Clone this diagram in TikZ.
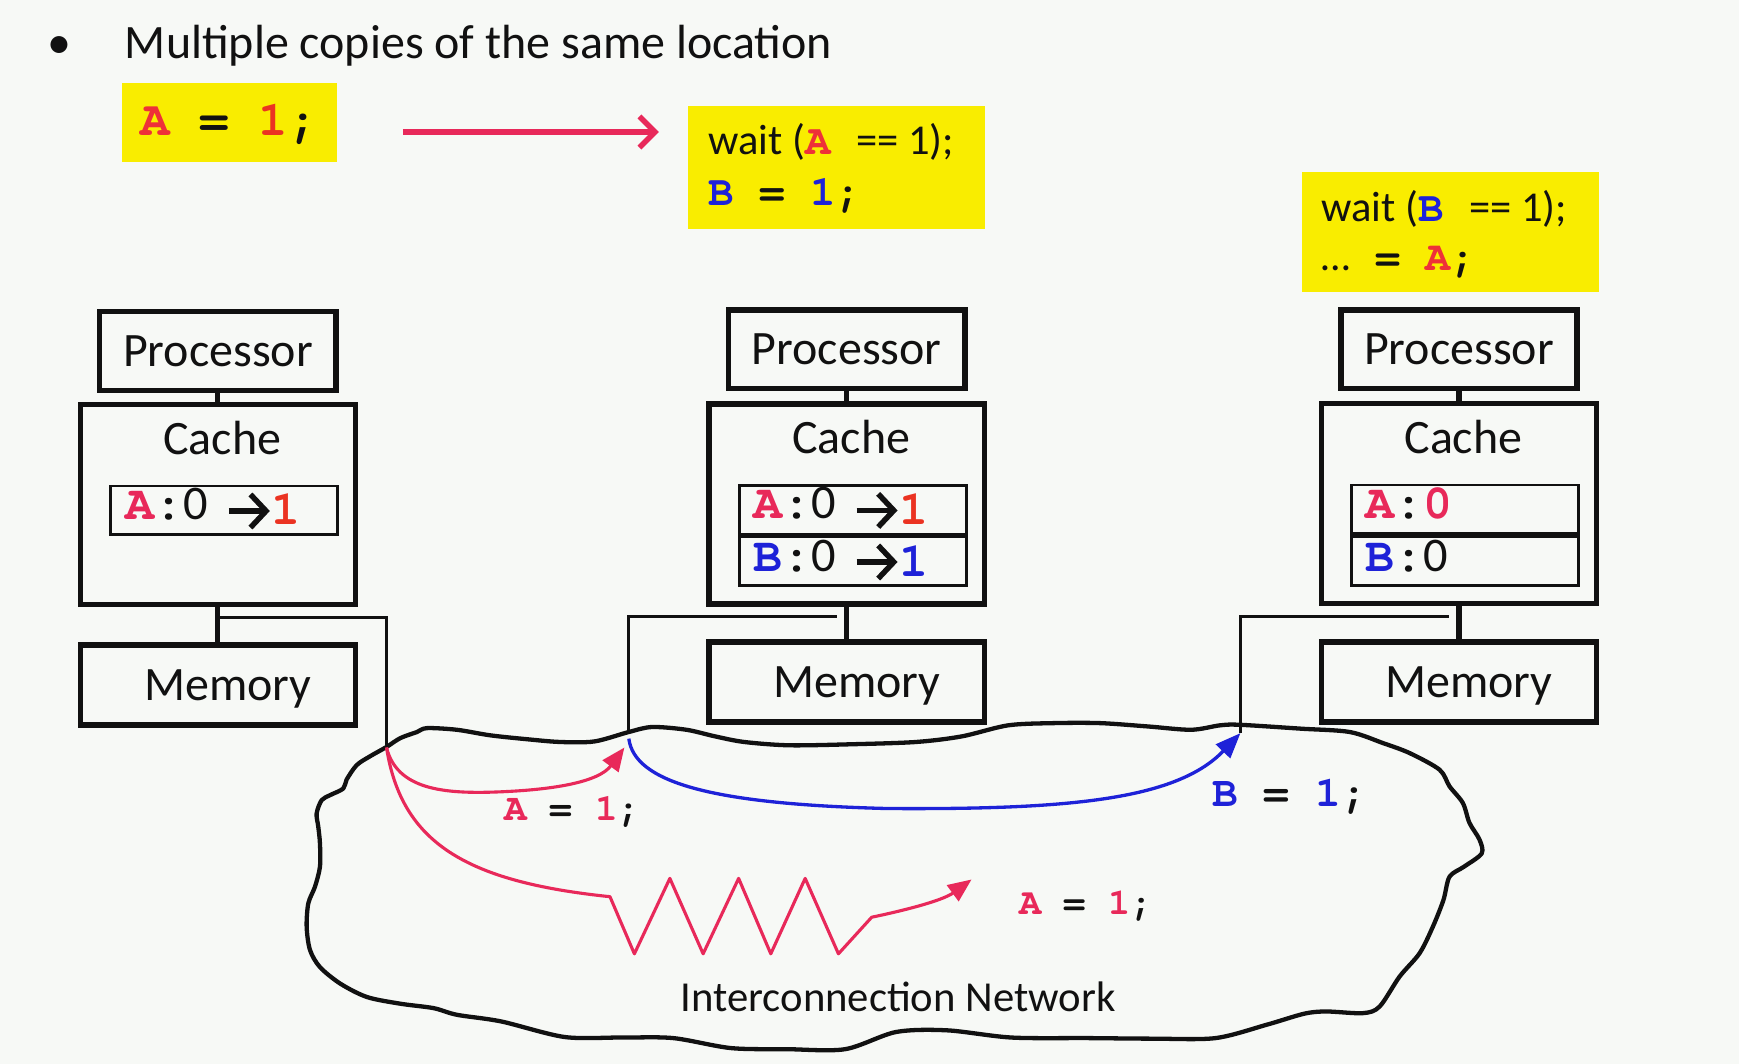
\documentclass[tikz,border=0pt]{standalone}
\usepackage{fontspec}
\setmainfont{Carlito}
\setmonofont{TeX Gyre Cursor}
\usetikzlibrary{arrows.meta,calc}

\definecolor{paper}{HTML}{F7F9F6}
\definecolor{ink}{HTML}{111111}
\definecolor{hilite}{HTML}{F9ED00}
\definecolor{apink}{HTML}{E8295A}
\definecolor{ored}{HTML}{EB3322}
\definecolor{codered}{HTML}{EE3138}
\definecolor{bblue}{HTML}{1E22D8}

% bold typewriter code
\newcommand{\cd}[1]{{\ttfamily\bfseries #1}}
\newcommand{\fsz}[1]{\fontsize{#1pt}{#1pt}\selectfont}

\begin{document}
\begin{tikzpicture}[x=0.01cm, y=-0.01cm,
  unit/.style={draw=ink, line width=1.4pt, inner sep=0pt, text=ink, font=\fsz{12.3}},
  procbox/.style={unit, minimum width=2.13cm, minimum height=0.71cm},
  cachebox/.style={unit, minimum width=2.48cm, minimum height=1.80cm},
  membox/.style={unit, minimum width=2.48cm, minimum height=0.72cm, text depth=0pt},
  cachelabel/.style={inner sep=0pt, anchor=base, text=ink, font=\fsz{12.3}},
  entrybox/.style={draw=ink, line width=0.7pt, inner sep=0pt, minimum width=2.045cm, minimum height=0.44cm, anchor=north west},
  etext/.style={inner sep=0pt, anchor=base west, text=ink, font=\fsz{12.4}},
  earrow/.style={draw=ink, line width=1.4pt, -{Straight Barb[length=4pt,width=8.5pt]}},
  link/.style={draw=ink, line width=1.3pt},
  net/.style={draw=ink, line width=0.75pt},
  codebox/.style={fill=hilite, inner sep=0pt},
  codeline/.style={inner sep=0pt, anchor=base west, text=ink},
  cloudline/.style={draw=ink, line width=1.1pt, line join=round},
  msgred/.style={draw=apink, line width=0.8pt, line join=round, -{Triangle[length=6pt,width=5pt]}},
  msgblue/.style={draw=bblue, line width=0.85pt, -{Triangle[length=6.5pt,width=5pt]}},
  msglabel/.style={inner sep=0pt, anchor=base west, text=ink},
]

% page
\fill[paper] (0,0) rectangle (1568,959);
\useasboundingbox (0,0) rectangle (1568,959);

% heading
\node[inner sep=0pt, anchor=base, font=\fsz{12.3}, text=ink] (dot) at (53.5,52.6) {•};
\node[inner sep=0pt, anchor=base west, font=\fsz{12.3}, text=ink] (head) at (112,52.6) {Multiple copies of the same location};

% program fragments
\node[codebox, minimum width=1.93cm, minimum height=0.707cm] (code1) at (206.9,110.5) {};
\node[codeline, font=\fsz{12.6}] (code1a) at ($(code1.west)+(16.5,12)$) {\cd{\textcolor{codered}{A} = \textcolor{ored}{1};}};

\node[codebox, minimum width=2.673cm, minimum height=1.112cm] (code2) at (754.4,151.2) {};
\node[codeline, font=\fsz{10.9}] (code2a) at ($(code2.north west)+(18,44)$) {wait (\cd{\textcolor{codered}{A}\ }== 1);};
\node[codeline, font=\fsz{10.9}] (code2b) at ($(code2.north west)+(18,90)$) {\cd{\textcolor{bblue}{B} = \textcolor{bblue}{1};}};

\node[codebox, minimum width=2.675cm, minimum height=1.082cm] (code3) at (1307.5,208.9) {};
\node[codeline, font=\fsz{10.9}] (code3a) at ($(code3.north west)+(18,45.5)$) {wait (\cd{\textcolor{bblue}{B}\ }== 1);};
\node[codeline, font=\fsz{10.7}] (code3b) at ($(code3.north west)+(18,89.5)$) {…\cd{\ = \textcolor{codered}{A};}};

\draw[draw=apink, line width=1.4pt, -{Straight Barb[length=4pt,width=8pt]}] ($(code1.east)+(59,8.5)$) -- ($(code1.east)+(290,8.5)$);

% node 1
\node[procbox] (p1) at (196.5,316.5) {Processor};
\node[cachebox] (c1) at (196.5,455) {};
\node[membox] (m1) at (196.5,617.5) {\hspace*{0.18cm}Memory};
\node[cachelabel] (cl1) at ($(c1.north)+(4,47)$) {Cache};
\draw[link] (p1) -- (c1);
\draw[link] (c1) -- (m1);
\node[entrybox] (e1a) at ($(c1.north west)+(28.5,74.5)$) {};
\node[etext] (t1a) at ($(e1a.west)+(14,8)$) {\cd{\textcolor{apink}{A}:}0};
\draw[earrow] ($(t1a.base east)+(18,-7.5)$) -- ++(37,0);
\node[etext] (v1a) at ($(t1a.base east)+(56,5)$) {\cd{\textcolor{ored}{1}}};

% node 2
\node[procbox] (p2) at (763.5,315) {Processor};
\node[cachebox] (c2) at (763.5,454.5) {};
\node[membox] (m2) at (763.5,615) {\hspace*{0.18cm}Memory};
\node[cachelabel] (cl2) at ($(c2.north)+(4,47)$) {Cache};
\draw[link] (p2) -- (c2);
\draw[link] (c2) -- (m2);
\node[entrybox] (e2a) at ($(c2.north west)+(28.5,74.5)$) {};
\node[entrybox] (e2b) at (e2a.south west) {};
\node[etext] (t2a) at ($(e2a.west)+(13,8)$) {\cd{\textcolor{apink}{A}:}0};
\draw[earrow] ($(t2a.base east)+(18,-7.5)$) -- ++(37,0);
\node[etext] (v2a) at ($(t2a.base east)+(56,5)$) {\cd{\textcolor{ored}{1}}};
\node[etext] (t2b) at ($(e2b.west)+(13,9.5)$) {\cd{\textcolor{bblue}{B}:}0};
\draw[earrow] ($(t2b.base east)+(18,-9)$) -- ++(37,0);
\node[etext] (v2b) at ($(t2b.base east)+(56,4)$) {\cd{\textcolor{bblue}{1}}};

% node 3
\node[procbox] (p3) at (1315.5,315) {Processor};
\node[cachebox] (c3) at (1315.5,454) {};
\node[membox] (m3) at (1315.5,615) {\hspace*{0.18cm}Memory};
\node[cachelabel] (cl3) at ($(c3.north)+(4,47)$) {Cache};
\draw[link] (p3) -- (c3);
\draw[link] (c3) -- (m3);
\node[entrybox] (e3a) at ($(c3.north west)+(28.5,74.5)$) {};
\node[entrybox] (e3b) at (e3a.south west) {};
\node[etext] (t3a) at ($(e3a.west)+(13,8)$) {\cd{\textcolor{apink}{A}:\textcolor{apink}{0}}};
\node[etext] (t3b) at ($(e3b.west)+(13,9.5)$) {\cd{\textcolor{bblue}{B}:}0};

% taps into the network
\coordinate (j1) at (348.5,674);
\coordinate (j2) at (567,660);
\coordinate (j3) at (1118.5,661);
\draw[net] ($(c1.south)+(0,9)$) -| (j1);
\draw[net] ($(c2.south)+(-9,9)$) -| (j2);
\draw[net] ($(c3.south)+(-9,9)$) -| (j3);

% interconnection network outline
\draw[cloudline] plot[smooth cycle, tension=0.5] coordinates {
 (348.5,673.5) (361,665.5) (376,660) (385,656.5) (412,658) (442,663) (475,666.5)
 (505,669) (536,668.5) (567,660) (588,655.5) (619,658) (645,664) (671,669) (712,672)
 (770,671) (826,669) (867,664) (909,654) (950,652) (992,652) (1035,655) (1074,658)
 (1100,654) (1118,653.5) (1173,657) (1217,660) (1247,670) (1271,679) (1298,694)
 (1307,709) (1319,724) (1325,742) (1334,757) (1336,769.5) (1320,781.5) (1307,790.5)
 (1301.5,811.5) (1292,835.5) (1280,859.5) (1262,880.5) (1244,907.5) (1229,913.5)
 (1196,912) (1176,914) (1142,924) (1096,936) (1040,936.5) (981,936) (912,935.5)
 (854,929) (808,930.5) (762,946) (710,946) (659,945) (607,936) (560,935.5) (509,935)
 (452,921) (412,915) (391,909) (361,905) (331,899) (307,887) (288.5,872) (279.5,856.5)
 (276.5,835.5) (278,814.5) (284,799.5) (288.5,781.5) (288.5,760.5) (287,745.5)
 (285.5,733.5) (290,721.5) (297.5,717) (309.5,711) (312.5,703) (321.5,690) (333.5,682)};
\node[inner sep=0pt, anchor=base, font=\fsz{10.95}, text=ink] (netlabel) at (809.7,912.2) {Interconnection Network};

% messages
\coordinate (tipA1) at (563,674);
\coordinate (tipA2) at (876,793);
\coordinate (startB) at ($(j2)+(0,6)$);
\draw[msgred] (j1) .. controls (358,712) and (400,716) .. (450,714)
  .. controls (500,712) and (540,705) .. (tipA1);
\draw[msgred] (j1) .. controls (362,760) and (420,795) .. (550,808.5)
  -- (572,860) -- (604,792) -- (634,860) -- (666,792) -- (695,860) -- (726,792)
  -- (756,860) -- (786,827) .. controls (815,821) and (850,812) .. (tipA2);
\draw[msgblue] (startB) .. controls (572,705) and (640,725) .. (800,729)
  .. controls (960,730) and (1060,722) .. (j3);

\node[msglabel, font=\fsz{9.7}] (la1) at (454,739.4) {\cd{\textcolor{apink}{A} = \textcolor{apink}{1};}};
\node[msglabel, font=\fsz{9.5}] (la2) at (918.2,825) {\cd{\textcolor{apink}{A} = \textcolor{apink}{1};}};
\node[msglabel, font=\fsz{11}] (lb) at (1092.5,727.4) {\cd{\textcolor{bblue}{B} = \textcolor{bblue}{1};}};

\end{tikzpicture}
\end{document}
